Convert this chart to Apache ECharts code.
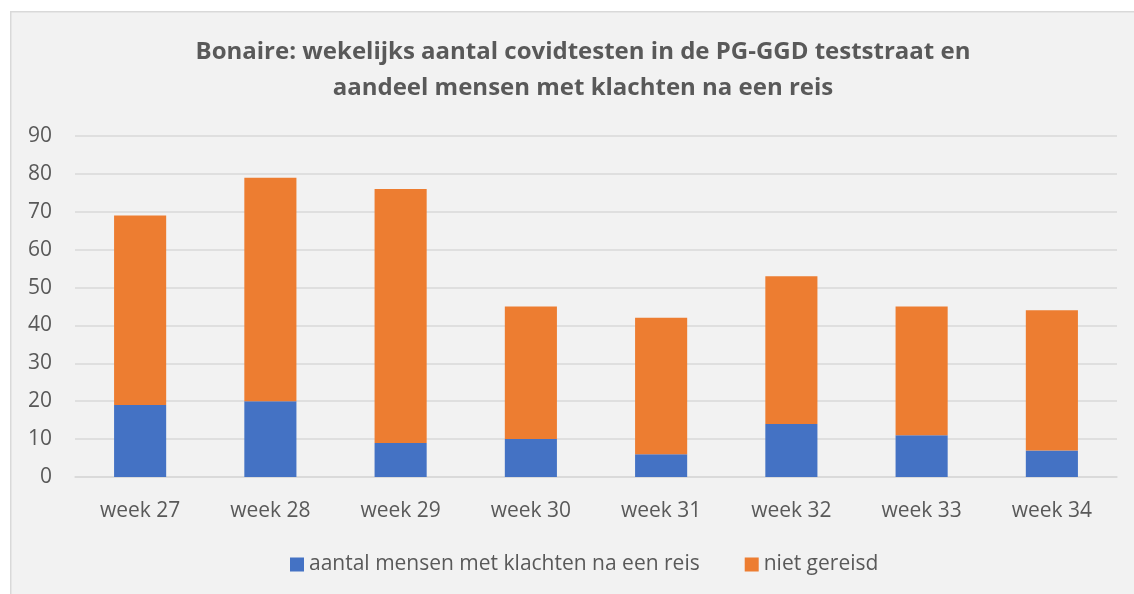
<!DOCTYPE html>
<html>
<head>
<meta charset="utf-8">
<script src="https://cdn.jsdelivr.net/npm/echarts@6/dist/echarts.min.js"></script>
<style>
html,body{margin:0;padding:0;background:#ffffff;}
#c{width:1134px;height:594px;}
</style>
</head>
<body>
<div id="c"></div>
<script>
const categories = ['week 27','week 28','week 29','week 30','week 31','week 32','week 33','week 34'];
const metKlachten = [19, 20, 9, 10, 6, 14, 11, 7];
const nietGereisd = [50, 59, 67, 35, 36, 39, 34, 37];
const yTicks = {min: 0, max: 90, interval: 10};
const seriesNames = ['aantal mensen met klachten na een reis', 'niet gereisd'];
const titleText = 'Bonaire: wekelijks aantal covidtesten in de PG-GGD teststraat en\naandeel mensen met klachten na een reis';

const FONT = 'Open Sans';
const TXT = '#595959';
const chart = echarts.init(document.getElementById('c'), null, {renderer: 'canvas'});
chart.setOption({
  backgroundColor: '#ffffff',
  animation: false,
  graphic: [{
    type: 'rect', left: 10, top: 11, z: -10,
    shape: {width: 1130, height: 590},
    style: {fill: '#f2f2f2', stroke: '#d9d9d9', lineWidth: 1.5}
  }],
  title: {
    text: titleText,
    left: 578, top: 29, textAlign: 'center',
    textStyle: {fontFamily: FONT, fontSize: 24, fontWeight: 'bold', color: TXT, lineHeight: 36}
  },
  legend: {
    data: seriesNames,
    left: 285, top: 549,
    itemWidth: 14, itemHeight: 14, itemGap: 45,
    icon: 'rect',
    textStyle: {fontFamily: FONT, fontSize: 21, color: TXT, padding: [0, 0, 0, 0]}
  },
  grid: {left: 75, right: 17, top: 136, bottom: 117, containLabel: false},
  xAxis: {
    type: 'category', data: categories,
    axisLine: {show: true, lineStyle: {color: '#d9d9d9', width: 1.5}},
    axisTick: {show: false},
    axisLabel: {fontFamily: FONT, fontSize: 21, color: TXT, margin: 24}
  },
  yAxis: {
    type: 'value', min: yTicks.min, max: yTicks.max, interval: yTicks.interval,
    axisLine: {show: false}, axisTick: {show: false},
    splitLine: {lineStyle: {color: '#d9d9d9', width: 1.5}},
    axisLabel: {fontFamily: FONT, fontSize: 21, color: TXT, margin: 23}
  },
  series: [
    {name: seriesNames[0], type: 'bar', stack: 't', data: metKlachten, barWidth: '40%',
     itemStyle: {color: '#4472C4'}},
    {name: seriesNames[1], type: 'bar', stack: 't', data: nietGereisd, barWidth: '40%',
     itemStyle: {color: '#ED7D31'}}
  ]
});
</script>
</body>
</html>
